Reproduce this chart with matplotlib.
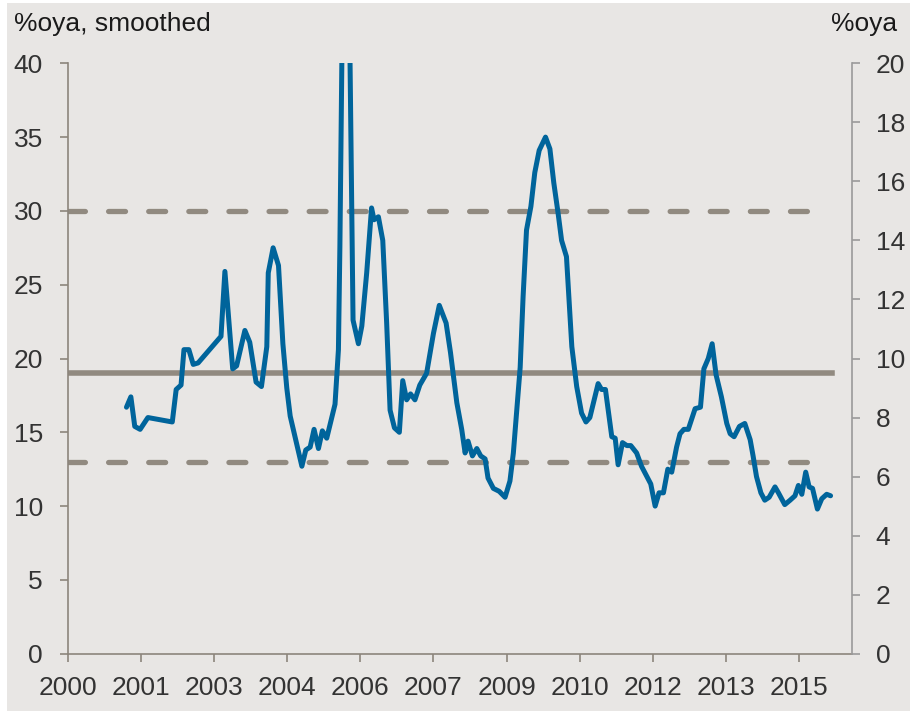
import matplotlib
matplotlib.use("Agg")
import matplotlib.pyplot as plt
from matplotlib.patches import Rectangle

plt.rcParams['font.family'] = ['Liberation Sans', 'DejaVu Sans']

# smoothed %oya series (decimal years, left-axis units)
years = [2001.20, 2001.29, 2001.37, 2001.48, 2001.64, 2002.14, 2002.22, 2002.32,
         2002.38, 2002.48, 2002.57, 2002.67, 2003.14, 2003.22, 2003.38, 2003.46,
         2003.63, 2003.73, 2003.86, 2003.97, 2004.08, 2004.11, 2004.21, 2004.32,
         2004.41, 2004.49, 2004.56, 2004.80, 2004.88, 2004.97, 2005.05, 2005.14,
         2005.22, 2005.31, 2005.48, 2005.55, 2005.58, 2005.70, 2005.82, 2005.85,
         2005.96, 2006.03, 2006.13, 2006.23, 2006.28, 2006.37, 2006.46, 2006.54,
         2006.61, 2006.70, 2006.80, 2006.87, 2006.95, 2007.03, 2007.12, 2007.22,
         2007.36, 2007.50, 2007.62, 2007.76, 2007.85, 2007.98, 2008.08, 2008.15,
         2008.21, 2008.30, 2008.39, 2008.47, 2008.56, 2008.62, 2008.73, 2008.85,
         2008.97, 2009.07, 2009.14, 2009.21, 2009.28, 2009.34, 2009.41, 2009.50,
         2009.58, 2009.67, 2009.80, 2009.89, 2009.97, 2010.06, 2010.13, 2010.23,
         2010.34, 2010.44, 2010.54, 2010.63, 2010.71, 2010.88, 2010.95, 2011.03,
         2011.16, 2011.23, 2011.29, 2011.38, 2011.47, 2011.55, 2011.67, 2011.77,
         2011.88, 2011.96, 2012.05, 2012.13, 2012.22, 2012.31, 2012.39, 2012.49,
         2012.56, 2012.64, 2012.73, 2012.87, 2012.98, 2013.05, 2013.14, 2013.22,
         2013.30, 2013.41, 2013.52, 2013.59, 2013.67, 2013.78, 2013.89, 2014.00,
         2014.06, 2014.13, 2014.22, 2014.30, 2014.39, 2014.51, 2014.58, 2014.71,
         2014.82, 2014.92, 2014.99, 2015.06, 2015.14, 2015.21, 2015.28, 2015.38,
         2015.47, 2015.57, 2015.65]
values = [16.7, 17.4, 15.4, 15.2, 16.0, 15.7, 17.9, 18.2,
          20.6, 20.6, 19.6, 19.7, 21.5, 25.9, 19.3, 19.5,
          21.9, 21.1, 18.4, 18.1, 20.8, 25.8, 27.5, 26.3,
          21.0, 18.0, 16.1, 12.7, 13.8, 14.0, 15.2, 13.9,
          15.1, 14.6, 16.9, 20.6, 27.6, 65.0, 31.2, 22.6,
          21.0, 22.2, 25.8, 30.2, 29.4, 29.6, 28.0, 22.4,
          16.5, 15.3, 15.0, 18.5, 17.2, 17.6, 17.2, 18.2,
          19.0, 21.7, 23.6, 22.4, 20.4, 17.0, 15.2, 13.6,
          14.4, 13.4, 13.9, 13.4, 13.2, 11.9, 11.2, 11.0,
          10.6, 11.7, 13.6, 16.5, 19.4, 24.2, 28.7, 30.3,
          32.6, 34.1, 35.0, 34.2, 31.9, 29.8, 28.0, 26.9,
          20.8, 18.1, 16.3, 15.7, 16.0, 18.3, 17.9, 17.9,
          14.7, 14.6, 12.8, 14.3, 14.1, 14.1, 13.6, 12.7,
          12.0, 11.5, 10.0, 10.9, 10.9, 12.5, 12.3, 14.0,
          14.9, 15.2, 15.2, 16.6, 16.7, 19.3, 20.0, 21.0,
          18.9, 17.4, 15.6, 14.9, 14.7, 15.4, 15.6, 14.5,
          13.4, 12.0, 10.9, 10.4, 10.6, 11.3, 10.9, 10.1,
          10.4, 10.7, 11.4, 10.8, 12.3, 11.3, 11.2, 9.8,
          10.5, 10.8, 10.7]

avg_level = 19
upper_band = 30
lower_band = 13
band_end = 2015.35
avg_end = 2015.68

tick_pos = [2000, 2001.5, 2003, 2004.5, 2006, 2007.5, 2009, 2010.5, 2012, 2013.5, 2015]
tick_labels = ['2000', '2001', '2003', '2004', '2006', '2007', '2009', '2010', '2012', '2013', '2015']

bg = '#e8e6e4'
grey = '#918a80'
blue = '#00649b'
axis_col = '#8c857c'
text_col = '#333333'

fig = plt.figure(figsize=(9.10, 7.11), dpi=100)
fig.patch.set_facecolor('white')
fig.patches.append(Rectangle((7 / 910, 0), 1, 1 - 3 / 711, transform=fig.transFigure,
                             facecolor=bg, edgecolor='none', zorder=-10))

ax = fig.add_axes([68 / 910, 1 - 653.7 / 711, (852 - 68) / 910, (653.7 - 63.3) / 711])
ax.set_facecolor(bg)

ax.plot([2000, band_end], [upper_band, upper_band], color=grey, lw=3.8,
        linestyle=(0, (3.2, 4.4)), dash_capstyle='round')
ax.plot([2000, band_end], [lower_band, lower_band], color=grey, lw=3.8,
        linestyle=(0, (3.2, 4.4)), dash_capstyle='round')
ax.plot([2000, avg_end], [avg_level, avg_level], color=grey, lw=4)
ax.plot(years, values, color=blue, lw=3.6, solid_joinstyle='round', solid_capstyle='round')

ax.set_xlim(2000, 2016.09)
ax.set_ylim(0, 40)
ax.set_yticks(range(0, 41, 5))
ax.set_xticks(tick_pos)
ax.set_xticklabels(tick_labels)

for s in ['top', 'right']:
    ax.spines[s].set_visible(False)
for s in ['left', 'bottom']:
    ax.spines[s].set_color(axis_col)
    ax.spines[s].set_linewidth(1.2)
ax.tick_params(axis='y', direction='out', length=6, width=1.2, color=axis_col,
               labelsize=19, labelcolor=text_col, pad=12)
ax.tick_params(axis='x', direction='out', length=6, width=1.2, color=axis_col,
               labelsize=19, labelcolor=text_col, pad=10)

ax2 = ax.twinx()
ax2.set_ylim(0, 20)
ax2.set_yticks(range(0, 21, 2))
for s in ['top', 'left', 'bottom']:
    ax2.spines[s].set_visible(False)
ax2.spines['right'].set_color('#9a9a9a')
ax2.spines['right'].set_linewidth(1.2)
ax2.tick_params(axis='y', direction='out', length=6, width=1.2, color='#9a9a9a',
                labelsize=19, labelcolor=text_col, pad=11)

fig.text(14 / 910, 1 - 24 / 711, '%oya, smoothed', fontsize=19, color='#1a1a1a',
         ha='left', va='center')
fig.text(897 / 910, 1 - 24 / 711, '%oya', fontsize=19, color='#1a1a1a',
         ha='right', va='center')

fig.savefig('out.png', dpi=100, facecolor=fig.get_facecolor())
